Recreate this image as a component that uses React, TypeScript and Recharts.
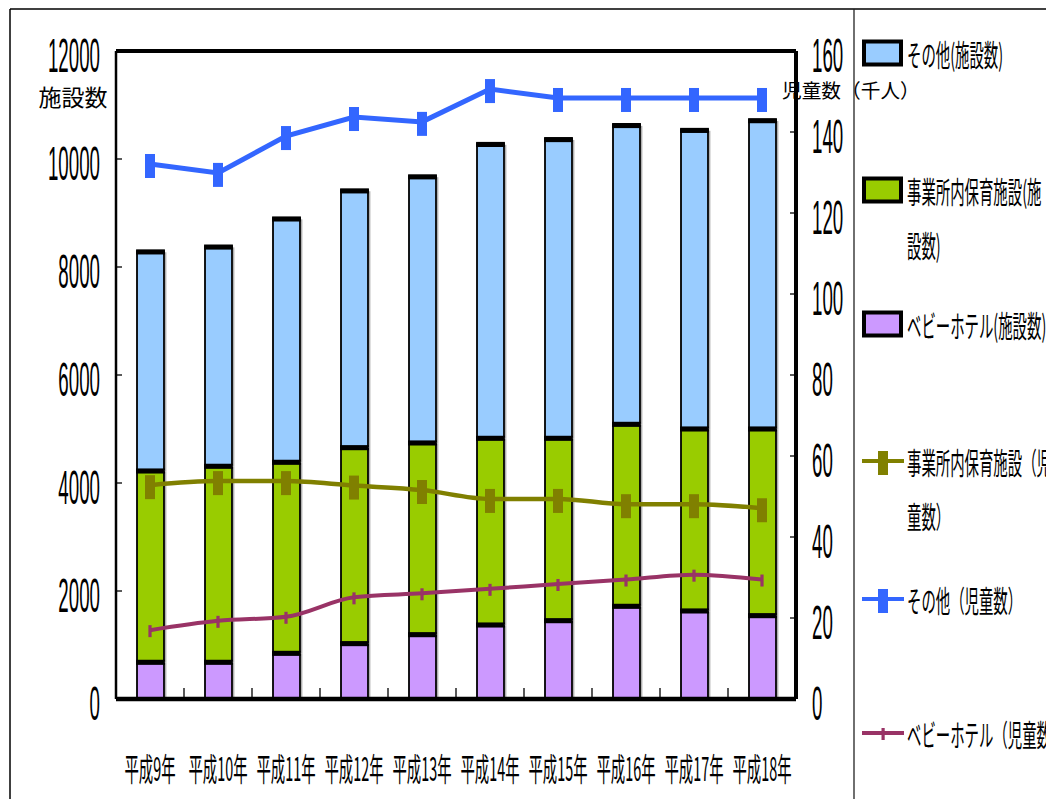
import React from 'react';
import { ComposedChart, Bar, Line, XAxis, YAxis, ReferenceLine } from 'recharts';

// ---- data ----
const categories = ['平成9年', '平成10年', '平成11年', '平成12年', '平成13年', '平成14年', '平成15年', '平成16年', '平成17年', '平成18年'];
const babyHotelFacilities = [710, 710, 876, 1056, 1222, 1401, 1481, 1747, 1661, 1574];
const workplaceFacilities = [3543, 3630, 3538, 3629, 3550, 3457, 3377, 3370, 3370, 3457];
const otherFacilities = [4057, 4060, 4506, 4755, 4928, 5442, 5532, 5533, 5529, 5709];
const workplaceChildren = [52.8, 53.8, 53.8, 52.7, 51.6, 49.4, 49.4, 48.1, 48.1, 47.1];
const otherChildren = [132.1, 129.9, 139.0, 143.7, 142.5, 150.6, 148.4, 148.4, 148.4, 148.4];
const babyHotelChildren = [17.0, 19.3, 20.3, 25.1, 26.1, 27.2, 28.4, 29.5, 30.7, 29.5];
const leftTicks = [0, 2000, 4000, 6000, 8000, 10000, 12000];
const rightTicks = [0, 20, 40, 60, 80, 100, 120, 140, 160];
const leftAxisTitle = '施設数';
const rightAxisTitle = '児童数（千人）';

const data = categories.map((name, i) => ({
  name,
  babyHotelFacilities: babyHotelFacilities[i],
  workplaceFacilities: workplaceFacilities[i],
  otherFacilities: otherFacilities[i],
  workplaceChildren: workplaceChildren[i],
  otherChildren: otherChildren[i],
  babyHotelChildren: babyHotelChildren[i],
}));

// ---- layout / style ----
const W = 1046;
const H = 799;
const PLOT_LEFT = 116;
const PLOT_RIGHT = 796;
const PLOT_TOP = 51;
const PLOT_BOTTOM = 699;
const BAND = (PLOT_RIGHT - PLOT_LEFT) / categories.length;

const C_BLUE_BAR = '#99CCFF';
const C_GREEN_BAR = '#99CC00';
const C_PURPLE_BAR = '#CC99FF';
const C_BLUE_LINE = '#3366FF';
const C_OLIVE_LINE = '#808000';
const C_MAGENTA_LINE = '#993366';

const NUM_FONT = '"Liberation Sans", Arial, sans-serif';
const JP_FONT = '"Noto Sans CJK JP", sans-serif';

function CText({ x, y, sx, size, anchor = 'start', family, children }: any) {
  return (
    <g transform={`translate(${x},${y}) scale(${sx},1)`}>
      <text x={0} y={0} fontSize={size} fontFamily={family} textAnchor={anchor} dominantBaseline="central" fill="#000">
        {children}
      </text>
    </g>
  );
}

function LeftTick(props: any) {
  const { y, payload } = props;
  return (
    <g>
      <line x1={PLOT_LEFT} x2={PLOT_LEFT + 6} y1={y} y2={y} stroke="#000" strokeWidth={1.3} />
      <CText x={100} y={y + 5} sx={0.39} size={48} anchor="end" family={NUM_FONT}>
        {payload.value}
      </CText>
    </g>
  );
}

function RightTick(props: any) {
  const { y, payload } = props;
  return (
    <g>
      <line x1={PLOT_RIGHT - 6} x2={PLOT_RIGHT} y1={y} y2={y} stroke="#000" strokeWidth={1.3} />
      <CText x={812} y={y + 5} sx={0.39} size={48} anchor="start" family={NUM_FONT}>
        {payload.value}
      </CText>
    </g>
  );
}

function XTick(props: any) {
  const { x, payload, index } = props;
  return (
    <g>
      {index < categories.length - 1 && (
        <line x1={x + BAND / 2} x2={x + BAND / 2} y1={PLOT_BOTTOM - 11} y2={PLOT_BOTTOM} stroke="#000" strokeWidth={1.3} />
      )}
      <CText x={x} y={767} sx={0.45} size={32} anchor="middle" family={JP_FONT}>
        {payload.value}
      </CText>
    </g>
  );
}

function CappedBar(props: any) {
  const { x, y, width, height, fill } = props;
  if (height == null || height <= 0) return null;
  return (
    <g>
      <rect x={x + width + 0.8} y={y + 2} width={1.6} height={height} fill="#b0b0b0" />
      <rect x={x} y={y} width={width} height={height} fill={fill} stroke="#000" strokeWidth={1.8} />
      <rect x={x - 0.9} y={y} width={width + 1.8} height={4.2} fill="#000" />
    </g>
  );
}

const wideDot = (color: string) => (p: any) => (
  <rect key={`d${p.index}`} x={p.cx - 5} y={p.cy - 10} width={10} height={24} fill={color} />
);
const thinDot = (color: string) => (p: any) => (
  <rect key={`d${p.index}`} x={p.cx - 1.6} y={p.cy - 5} width={3.2} height={12} fill={color} />
);

const legendItems = [
  { kind: 'box', color: C_BLUE_BAR, lines: ['その他(施設数)'], y: 53 },
  { kind: 'box', color: C_GREEN_BAR, lines: ['事業所内保育施設(施', '設数)'], y: 190 },
  { kind: 'box', color: C_PURPLE_BAR, lines: ['ベビーホテル(施設数)'], y: 324 },
  { kind: 'wide', color: C_OLIVE_LINE, lines: ['事業所内保育施設（児', '童数）'], y: 461 },
  { kind: 'wide', color: C_BLUE_LINE, lines: ['その他（児童数）'], y: 599 },
  { kind: 'thin', color: C_MAGENTA_LINE, lines: ['ベビーホテル（児童数）'], y: 733 },
];

function Overlay() {
  return (
    <svg width={W} height={H} style={{ position: 'absolute', left: 0, top: 0, pointerEvents: 'none' }}>
      {/* outer frame */}
      <line x1={10} x2={W} y1={9} y2={9} stroke="#000" strokeWidth={1.5} />
      <line x1={10} x2={10} y1={9} y2={H} stroke="#000" strokeWidth={1.5} />
      <line x1={854} x2={854} y1={9} y2={H} stroke="#222" strokeWidth={1.3} />
      {/* axis titles */}
      <CText x={73} y={96} sx={1} size={23} anchor="middle" family={JP_FONT}>{leftAxisTitle}</CText>
      <CText x={782} y={89} sx={1} size={19.7} anchor="start" family={JP_FONT}>{rightAxisTitle}</CText>
      {/* legend */}
      {legendItems.map((it, i) => (
        <g key={i}>
          {it.kind === 'box' && (
            <rect x={864} y={it.y - 11.5} width={37} height={23} fill={it.color} stroke="#000" strokeWidth={4} />
          )}
          {it.kind !== 'box' && (
            <g>
              <line x1={862} x2={904} y1={it.y} y2={it.y} stroke={it.color} strokeWidth={4} />
              {it.kind === 'wide' ? (
                <rect x={878} y={it.y - 10} width={10} height={24} fill={it.color} />
              ) : (
                <rect x={881.5} y={it.y - 5} width={3.2} height={12} fill={it.color} />
              )}
            </g>
          )}
          {it.lines.map((t, j) => (
            <CText key={j} x={907} y={it.y + j * 54} sx={0.48} size={30} anchor="start" family={JP_FONT}>
              {t}
            </CText>
          ))}
        </g>
      ))}
    </svg>
  );
}

export default function App() {
  return (
    <div style={{ position: 'absolute', left: 0, top: 0, width: W, height: H, background: '#fff', overflow: 'hidden' }}>
      <ComposedChart
        width={W}
        height={H}
        data={data}
        margin={{ top: PLOT_TOP, right: 0, bottom: 0, left: 0 }}
        barCategoryGap={0}
      >
        <XAxis
          dataKey="name"
          height={H - PLOT_BOTTOM}
          interval={0}
          tickLine={false}
          axisLine={{ stroke: '#000', strokeWidth: 4.5 }}
          tick={(p: any) => <XTick {...p} />}
        />
        <YAxis
          yAxisId="left"
          width={PLOT_LEFT}
          domain={[0, 12000]}
          ticks={leftTicks}
          tickLine={false}
          axisLine={{ stroke: '#000', strokeWidth: 2.5 }}
          tick={(p: any) => <LeftTick {...p} />}
        />
        <YAxis
          yAxisId="right"
          orientation="right"
          width={W - PLOT_RIGHT}
          domain={[0, 160]}
          ticks={rightTicks}
          tickLine={false}
          axisLine={{ stroke: '#000', strokeWidth: 4 }}
          tick={(p: any) => <RightTick {...p} />}
        />
        <Bar yAxisId="left" dataKey="babyHotelFacilities" stackId="f" fill={C_PURPLE_BAR} barSize={27} shape={(p: any) => <CappedBar {...p} />} isAnimationActive={false} />
        <Bar yAxisId="left" dataKey="workplaceFacilities" stackId="f" fill={C_GREEN_BAR} barSize={27} shape={(p: any) => <CappedBar {...p} />} isAnimationActive={false} />
        <Bar yAxisId="left" dataKey="otherFacilities" stackId="f" fill={C_BLUE_BAR} barSize={27} shape={(p: any) => <CappedBar {...p} />} isAnimationActive={false} />
        <ReferenceLine yAxisId="left" y={12000} stroke="#000" strokeWidth={4} />
        <Line yAxisId="right" type="monotone" dataKey="workplaceChildren" stroke={C_OLIVE_LINE} strokeWidth={4.5} dot={wideDot(C_OLIVE_LINE)} isAnimationActive={false} />
        <Line yAxisId="right" type="linear" dataKey="otherChildren" stroke={C_BLUE_LINE} strokeWidth={5} dot={wideDot(C_BLUE_LINE)} isAnimationActive={false} />
        <Line yAxisId="right" type="monotone" dataKey="babyHotelChildren" stroke={C_MAGENTA_LINE} strokeWidth={4} dot={thinDot(C_MAGENTA_LINE)} isAnimationActive={false} />
      </ComposedChart>
      <Overlay />
    </div>
  );
}
